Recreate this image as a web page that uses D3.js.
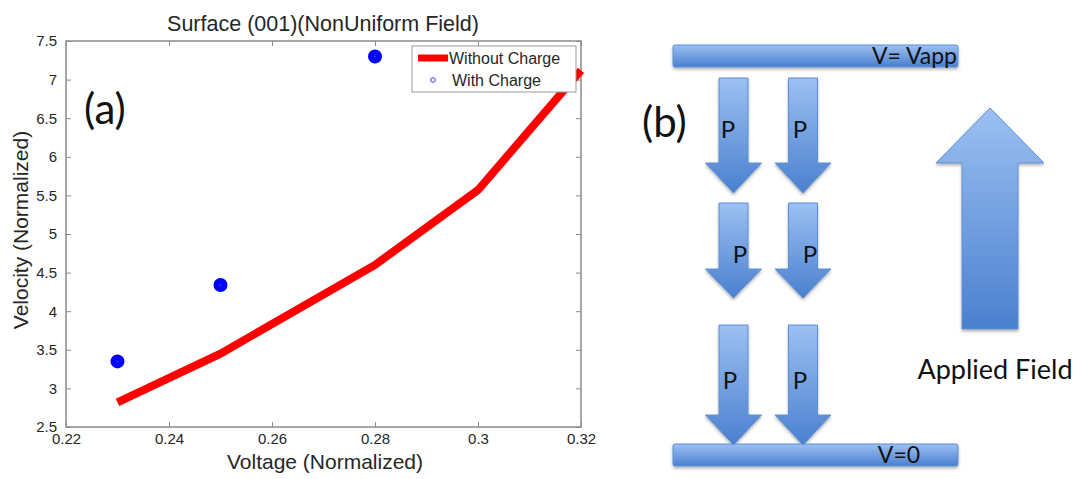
<!DOCTYPE html>
<html>
<head>
<meta charset="utf-8">
<script src="https://cdn.jsdelivr.net/npm/d3@7"></script>
<style>
  html, body { margin: 0; padding: 0; background: #fff; }
  svg { display: block; }
  .tick text { font-family: "Liberation Sans", Arial, sans-serif; font-size: 15px; fill: #262626; }
</style>
</head>
<body>
<svg id="fig" width="1081" height="479"></svg>
<script>
// chart data (panel a)
const voltage = [0.23, 0.25, 0.28, 0.30, 0.32];
const velocityNoCharge = [2.82, 3.45, 4.60, 5.57, 7.12];
const chargeVoltage = [0.23, 0.25, 0.28];
const velocityCharge = [3.35, 4.34, 7.30];
const xTicks = [0.22, 0.24, 0.26, 0.28, 0.30, 0.32];
const yTicks = [2.5, 3, 3.5, 4, 4.5, 5, 5.5, 6, 6.5, 7, 7.5];
const seriesNames = ['Without Charge', 'With Charge'];

const svg = d3.select('#fig');
const font = '"Liberation Sans", Arial, sans-serif';

var margin = {top: 41, left: 66};
var width = 581 - 66;
var height = 427 - 41;

const xScale = d3.scaleLinear().domain([0.22, 0.32]).range([0, width]);
const yScale = d3.scaleLinear().domain([2.5, 7.5]).range([height, 0]);

const plotArea = svg.append('g')
    .attr('transform', `translate(${margin.left}, ${margin.top})`);

// inward ticks on all four sides, matlab style
plotArea.append('g')
    .attr('transform', `translate(0, ${height})`)
    .call(d3.axisBottom(xScale).tickValues(xTicks).tickSizeInner(-5).tickSizeOuter(0).tickPadding(6)
      .tickFormat(d => d3.format('~g')(d)));
plotArea.append('g')
    .call(d3.axisTop(xScale).tickValues(xTicks).tickSizeInner(-5).tickSizeOuter(0).tickFormat(''));
plotArea.append('g')
    .call(d3.axisLeft(yScale).tickValues(yTicks).tickSizeInner(-5).tickSizeOuter(0).tickPadding(9)
      .tickFormat(d => d3.format('~g')(d)));
plotArea.append('g')
    .attr('transform', `translate(${width}, 0)`)
    .call(d3.axisRight(yScale).tickValues(yTicks).tickSizeInner(-5).tickSizeOuter(0).tickFormat(''));

plotArea.selectAll('.domain').remove();
plotArea.selectAll('.tick line').attr('stroke', '#8a8a8a');

plotArea.append('rect')
    .attr('width', width).attr('height', height)
    .attr('fill', 'none').attr('stroke', '#8a8a8a').attr('stroke-width', 1.5);

const line = d3.line()
    .x((d, i) => xScale(voltage[i]))
    .y(d => yScale(d));

plotArea.append('path')
    .datum(velocityNoCharge)
    .attr('d', line)
    .attr('fill', 'none')
    .attr('stroke', '#ff0000')
    .attr('stroke-width', 8)
    .attr('stroke-linejoin', 'miter');

plotArea.append('g').selectAll('circle')
  .data(velocityCharge)
  .join('circle')
    .attr('cx', (d, i) => xScale(chargeVoltage[i]))
    .attr('cy', d => yScale(d))
    .attr('r', 4)
    .attr('fill', '#3d3dff')
    .attr('stroke', '#0000ff')
    .attr('stroke-width', 6);

// legend
const legend = svg.append('g').attr('transform', 'translate(412, 46)');
legend.append('rect')
    .attr('width', 164).attr('height', 46)
    .attr('fill', '#fff').attr('stroke', '#999').attr('stroke-width', 1);
legend.append('line')
    .attr('x1', 6).attr('x2', 36).attr('y1', 12).attr('y2', 12)
    .attr('stroke', '#ff0000').attr('stroke-width', 7);
legend.append('circle')
    .attr('cx', 21).attr('cy', 34).attr('r', 2.3)
    .attr('fill', 'none').attr('stroke', '#3333ff').attr('stroke-width', 1);
legend.selectAll('text.lab')
  .data(seriesNames)
  .join('text')
    .attr('class', 'lab')
    .attr('x', (d, i) => i ? 40 : 37)
    .attr('y', (d, i) => 12 + i * 22)
    .attr('dy', '0.35em')
    .attr('font-family', font).attr('font-size', 16).attr('fill', '#262626')
    .text(d => d);

// titles
svg.append('text')
    .attr('x', 323).attr('y', 23).attr('dy', '0.35em')
    .attr('text-anchor', 'middle')
    .attr('font-family', font).attr('font-size', 21.5).attr('fill', '#262626')
    .text('Surface (001)(NonUniform Field)');
svg.append('text')
    .attr('x', 325).attr('y', 462).attr('dy', '0.35em')
    .attr('text-anchor', 'middle')
    .attr('font-family', font).attr('font-size', 21).attr('fill', '#262626')
    .text('Voltage (Normalized)');
svg.append('text')
    .attr('transform', 'translate(21, 230) rotate(-90)')
    .attr('dy', '0.35em')
    .attr('text-anchor', 'middle')
    .attr('font-family', font).attr('font-size', 21).attr('fill', '#262626')
    .text('Velocity (Normalized)');

const calib = 'Lato, "Open Sans", sans-serif';
svg.append('text')
    .attr('x', 84).attr('y', 124)
    .attr('font-family', calib).attr('font-size', 42).attr('fill', '#111')
    .text('(a)');

// panel b: schematic
const defs = svg.append('defs');
const grad = defs.append('linearGradient')
    .attr('id', 'blue').attr('x1', 0).attr('y1', 0).attr('x2', 0).attr('y2', 1);
grad.append('stop').attr('offset', '0%').attr('stop-color', '#9cc0f2');
grad.append('stop').attr('offset', '100%').attr('stop-color', '#4a80cf');
const shadow = defs.append('filter').attr('id', 'shadow')
    .attr('x', '-20%').attr('y', '-20%').attr('width', '140%').attr('height', '140%');
shadow.append('feDropShadow')
    .attr('dx', 0).attr('dy', 2).attr('stdDeviation', 1.5)
    .attr('flood-color', '#000').attr('flood-opacity', 0.3);

const diagram = svg.append('g')
    .attr('fill', 'url(#blue)')
    .attr('stroke', '#5f8fd3')
    .attr('stroke-width', 1)
    .attr('filter', 'url(#shadow)');

function arrowDown(cx, top, neck, tip, sw, hw) {
  const p = d3.path();
  p.moveTo(cx - sw / 2, top);
  p.lineTo(cx + sw / 2, top);
  p.lineTo(cx + sw / 2, neck);
  p.lineTo(cx + hw / 2, neck);
  p.lineTo(cx, tip);
  p.lineTo(cx - hw / 2, neck);
  p.lineTo(cx - sw / 2, neck);
  p.closePath();
  return p.toString();
}

// plates
diagram.append('rect').attr('x', 673).attr('y', 45).attr('width', 285).attr('height', 22).attr('rx', 2);
diagram.append('rect').attr('x', 673).attr('y', 444).attr('width', 285).attr('height', 22).attr('rx', 2);

const rows = [
  {top: 78, neck: 163, tip: 193, px: [728, 800], py: 130},
  {top: 203, neck: 269, tip: 298, px: [740, 810], py: 255},
  {top: 325, neck: 415, tip: 445, px: [730, 800], py: 381}
];
const cols = [733.5, 803];

rows.forEach(r => {
  cols.forEach(cx => {
    diagram.append('path').attr('d', arrowDown(cx, r.top, r.neck, r.tip, 29, 56));
  });
});

// applied field arrow (pointing up)
diagram.append('path')
    .attr('d', arrowDown(990, 329, 163, 108, 56, 108));

const label = svg.append('g')
    .attr('font-family', calib).attr('fill', '#111');
rows.forEach(r => {
  r.px.forEach(x => {
    label.append('text')
        .attr('x', x).attr('y', r.py).attr('dy', '0.35em')
        .attr('text-anchor', 'middle').attr('font-size', 24)
        .text('P');
  });
});
label.append('text').attr('x', 957).attr('y', 56).attr('dy', '0.35em')
    .attr('text-anchor', 'end').attr('font-size', 23).text('V= Vapp');
label.append('text').attr('x', 899).attr('y', 455).attr('dy', '0.35em')
    .attr('text-anchor', 'middle').attr('font-size', 23).text('V=0');
label.append('text').attr('x', 995).attr('y', 370).attr('dy', '0.35em')
    .attr('text-anchor', 'middle').attr('font-size', 27).text('Applied Field');
label.append('text').attr('x', 642).attr('y', 137)
    .attr('font-size', 42).text('(b)');
</script>
</body>
</html>
